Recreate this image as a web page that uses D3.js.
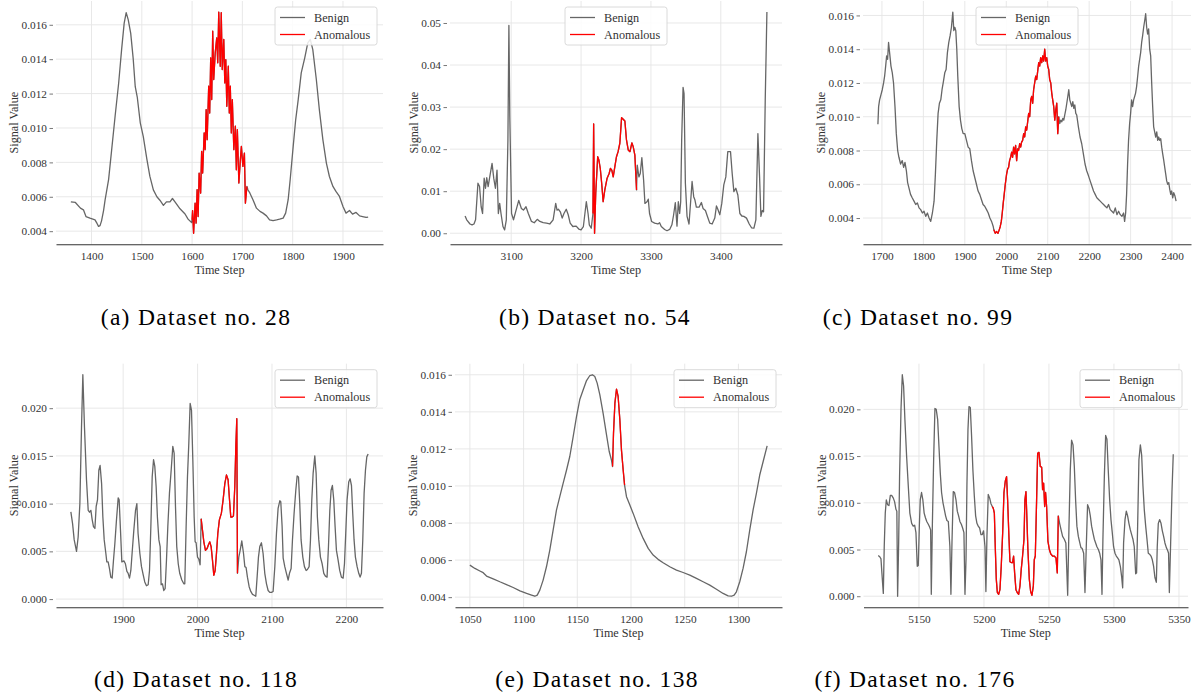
<!DOCTYPE html>
<html><head><meta charset="utf-8">
<script src="https://cdn.jsdelivr.net/npm/d3@7"></script>
<style>
html,body{margin:0;padding:0;background:#fff;}
svg{display:block;}
svg text{font-family:"Liberation Serif","Tinos","DejaVu Serif",serif;}
</style></head><body>
<svg id="chart" width="1198" height="693"></svg>
<script>
// ---------------- DATA ----------------
const series28 = [[1359,0.0057],[1368,0.00567],[1378,0.00534],[1384,0.00524],[1389,0.00485],[1397,0.00476],[1407,0.00466],[1411,0.00445],[1414,0.00428],[1417,0.00432],[1420,0.0046],[1424,0.0052],[1427,0.0058],[1434,0.007],[1440,0.0087],[1447,0.0107],[1454,0.0126],[1460,0.0146],[1465,0.0161],[1469,0.0167],[1473,0.0163],[1478,0.0155],[1483,0.014],[1487,0.0124],[1491,0.0118],[1497,0.0103],[1503,0.0095],[1510,0.0082],[1516,0.0072],[1523,0.0064],[1530,0.006],[1536,0.0058],[1543,0.0055],[1549,0.0057],[1556,0.0057],[1561,0.0059],[1566,0.0057],[1576,0.0053],[1586,0.005],[1592,0.0047],[1599,0.0045],
[1600,0.00466],[1601,0.0052],[1603,0.00388],[1606,0.00563],[1608,0.00447],[1610,0.00641],[1612,0.00485],[1614,0.00738],[1617,0.00621],[1619,0.00864],[1621,0.00738],[1624,0.00971],[1626,0.00874],[1628,0.01107],[1630,0.00932],[1633,0.01243],[1635,0.01087],[1637,0.01408],[1639,0.01165],[1641,0.01563],[1643,0.01282],[1646,0.01437],[1649,0.01524],[1651,0.01379],[1653,0.01674],[1656,0.01359],[1658,0.0167],[1660,0.0134],[1663,0.01515],[1665,0.01262],[1667,0.01398],[1669,0.01126],[1672,0.01359],[1674,0.01087],[1676,0.01243],[1678,0.00971],[1680,0.01165],[1683,0.00874],[1686,0.0101],[1688,0.00757],[1690,0.00991],[1693,0.0068],[1696,0.00816],[1698,0.00893],[1701,0.00777],[1704,0.00854],[1706,0.00563],[1709,0.0066],
[1711,0.00641],[1715,0.00621],[1721,0.00583],[1728,0.00534],[1735,0.00515],[1741,0.00505],[1748,0.00489],[1754,0.00466],[1761,0.00462],[1768,0.00466],[1774,0.0047],[1781,0.00476],[1786,0.00505],[1791,0.00583],[1795,0.00699],[1801,0.00893],[1806,0.01049],[1811,0.01165],[1817,0.0132],[1824,0.01408],[1830,0.01495],[1835,0.01515],[1840,0.01456],[1847,0.01282],[1853,0.01107],[1860,0.00932],[1867,0.00796],[1873,0.00718],[1880,0.0066],[1886,0.00631],[1893,0.00602],[1900,0.00544],[1906,0.00505],[1913,0.0052],[1919,0.00499],[1926,0.00509],[1933,0.00489],[1939,0.00485],[1946,0.0048],[1950,0.00482]];
const anom28 = [1600, 1709];

const series54 = [[3034,0.0041],[3036.3,0.0032],[3041,0.0022],[3044,0.002],[3046.7,0.0022],[3049,0.0032],[3052.4,0.0119],[3054.7,0.0111],[3057,0.0063],[3059,0.0047],[3061.3,0.0131],[3063.2,0.0107],[3065,0.0132],[3067,0.0111],[3069.3,0.0134],[3072.6,0.0166],[3075,0.0131],[3077.4,0.0107],[3079.7,0.015],[3081.6,0.0047],[3083.5,0.0071],[3085.4,0.0047],[3088.2,0.0016],[3090.6,0.0008],[3093,0.0032],[3095.3,0.0222],[3096.7,0.0494],[3098,0.0277],[3100.5,0.0047],[3103.3,0.0032],[3107,0.0055],[3110.8,0.0078],[3114.6,0.0059],[3117.5,0.0055],[3121.2,0.0063],[3124.5,0.0047],[3129,0.0028],[3133,0.0025],[3137.3,0.0033],[3141,0.0028],[3145.8,0.0025],[3150.5,0.0024],[3155.2,0.0022],[3160,0.0032],[3163.7,0.0071],[3165.6,0.0055],[3167.5,0.0057],[3170.3,0.0051],[3173,0.0036],[3175.5,0.0047],[3178.8,0.0057],[3181.6,0.0044],[3184.4,0.0024],[3188.2,0.0016],[3193,0.0017],[3196.7,0.001],[3200,0.0008],[3203.3,0.0016],[3207.5,0.0075],[3210,0.0047],[3211.8,0.002],[3214.6,0.0012],
[3217,0.0047],[3218,0.026],[3219.3,0.0],[3221,0.0095],[3223.8,0.0182],[3225.5,0.0174],[3227.5,0.0154],[3229.5,0.0119],[3231.6,0.0075],[3234,0.0103],[3237.3,0.0131],[3240.2,0.0142],[3242,0.0154],[3244,0.015],[3246,0.0134],[3248.3,0.0158],[3250.7,0.0182],[3253,0.0194],[3255.5,0.0214],[3258,0.0275],[3260.3,0.0271],[3262.7,0.0267],[3265,0.0222],[3267.5,0.0198],[3270,0.0194],[3272.7,0.0215],[3274.6,0.0206],[3277,0.0186],[3279.4,0.0103],
[3280.4,0.0162],[3282.8,0.0134],[3284.7,0.0142],[3287,0.018],[3289.5,0.0127],[3291.4,0.0071],[3294.3,0.0075],[3296.2,0.0081],[3298,0.0047],[3301,0.0028],[3305.3,0.0024],[3310,0.0022],[3312.4,0.0025],[3314.8,0.0016],[3319.6,0.0009],[3323,0.0006],[3326.8,0.0009],[3330,0.002],[3332.5,0.0044],[3334.9,0.0073],[3337.3,0.0017],[3339.2,0.0075],[3341.1,0.0047],[3342.6,0.0075],[3344,0.0222],[3346,0.0347],[3347.4,0.0332],[3349.3,0.0119],[3351.7,0.004],[3354.5,0.0022],[3357,0.0079],[3358.9,0.0123],[3361.2,0.0087],[3363,0.0079],[3365,0.0062],[3368.9,0.0062],[3372.2,0.0073],[3374.6,0.0059],[3378,0.0054],[3380.9,0.004],[3384.2,0.0024],[3387.6,0.0022],[3391.4,0.0036],[3393.8,0.0065],[3396.2,0.0055],[3398.6,0.0044],[3401.4,0.0071],[3404.3,0.0115],[3407.2,0.0134],[3410,0.0194],[3413.9,0.0194],[3416.3,0.0142],[3418.7,0.0099],[3421.5,0.0107],[3424.4,0.0091],[3427.3,0.0047],[3430.1,0.0041],[3433,0.004],[3436.8,0.0036],[3440.7,0.0022],[3444,0.0013],[3447.4,0.0012],[3450.2,0.0032],[3453.1,0.0237],[3455.5,0.0134],[3457.4,0.004],[3459.3,0.0054],[3461.2,0.0051],[3463.6,0.0316],[3466,0.0526]];
const anom54 = [3217, 3279.4];

const series99 = [[1690.3,0.00956],[1692,0.0106],[1694.4,0.011],[1697.6,0.0113],[1700.8,0.0116],[1704,0.012],[1706.5,0.0124],[1709,0.013],[1711.3,0.0136],[1713.7,0.0134],[1716,0.0144],[1718.5,0.0138],[1721.8,0.013],[1725,0.0126],[1728,0.012],[1731.5,0.0106],[1734.7,0.009],[1738,0.008],[1741,0.0076],[1745,0.0072],[1749,0.0074],[1752.4,0.007],[1755.6,0.0073],[1759,0.0068],[1762,0.0061],[1765,0.0058],[1769,0.0054],[1773,0.0052],[1777.4,0.005],[1781.5,0.0048],[1785.5,0.0049],[1789.5,0.0046],[1793.5,0.0045],[1797.6,0.0043],[1801.6,0.0044],[1805.6,0.0041],[1809.7,0.0043],[1813.7,0.004],[1817.7,0.0038],[1821.8,0.0043],[1825.8,0.005],[1829,0.0066],[1832.3,0.0086],[1835.5,0.0102],[1838.7,0.0108],[1842,0.011],[1845,0.0116],[1848.4,0.0121],[1851.6,0.0126],[1854.8,0.0128],[1858,0.0138],[1861.3,0.0144],[1864.5,0.0148],[1867.7,0.0153],[1871,0.0162],[1873.4,0.0151],[1875.8,0.0153],[1878.2,0.0151],[1880.6,0.014],[1883,0.0124],[1886.3,0.0106],[1889.5,0.0098],[1892.7,0.0093],[1896,0.009],[1900,0.009],[1904,0.0086],[1908,0.0082],[1912,0.0081],[1916,0.0074],[1920,0.0068],[1924,0.0064],[1928,0.006],[1932,0.0056],[1936,0.0054],[1940,0.0051],[1944,0.0048],[1948,0.0047],[1952.4,0.0045],[1956.5,0.0043],[1960.5,0.004],[1964.5,0.0038],[1968.5,0.0035],
[1970,0.0033],[1973.4,0.0031],[1976.6,0.0032],[1980,0.0031],[1983,0.0033],[1985.5,0.0035],[1988,0.0038],[1990.3,0.0043],[1992.7,0.0049],[1995,0.0054],[1997.6,0.006],[2000.8,0.0066],[2003.2,0.0069],[2005.6,0.007],[2008,0.0074],[2010.5,0.0076],[2013,0.0079],[2015.3,0.0076],[2017.7,0.0082],[2020,0.0078],[2022.6,0.0083],[2025,0.0074],[2027.4,0.0081],[2029.8,0.008],[2032.3,0.0084],[2034.7,0.0082],[2037,0.0085],[2039.5,0.0086],[2042,0.009],[2044.4,0.0088],[2046.8,0.0094],[2049.2,0.0092],[2051.6,0.0097],[2054,0.0102],[2056.5,0.01],[2059,0.011],[2061.3,0.0112],[2063.7,0.0108],[2066,0.0116],[2068.5,0.012],[2071,0.0124],[2073.4,0.0122],[2075.8,0.0127],[2078.2,0.0132],[2080.6,0.013],[2083,0.0135],[2085.5,0.0132],[2088,0.0136],[2090.3,0.0133],[2092.7,0.014],[2095,0.0133],[2097.6,0.0135],[2100,0.013],[2102.4,0.0128],[2104.8,0.0122],[2107.3,0.012],[2109.7,0.0114],[2112,0.011],[2114.5,0.0106],[2117,0.0098],[2119.4,0.0104],[2121.8,0.0108],[2124.2,0.009],[2126.6,0.01],
[2129,0.0096],[2131.5,0.0098],[2134,0.0097],[2136.3,0.0099],[2138.7,0.0098],[2141,0.0101],[2143.5,0.0104],[2146,0.0108],[2148.4,0.0112],[2150.8,0.0116],[2153.2,0.011],[2155.6,0.0108],[2158,0.0106],[2160.5,0.0109],[2163,0.0105],[2165.3,0.0107],[2167.7,0.0102],[2170,0.0101],[2174,0.0094],[2178,0.0088],[2182,0.0084],[2186,0.0078],[2190,0.0072],[2194,0.0068],[2198.4,0.0065],[2202.4,0.0062],[2206.5,0.0059],[2210.5,0.0056],[2214.5,0.0054],[2218.5,0.0052],[2222.6,0.0051],[2226.6,0.005],[2230.6,0.0049],[2234.7,0.0048],[2238.7,0.0047],[2242.7,0.0046],[2246.8,0.0048],[2250.8,0.0045],[2254.8,0.0044],[2258.9,0.0043],[2263,0.0046],[2267,0.0042],[2271,0.0044],[2275,0.0042],[2279,0.0041],[2283,0.0043],[2285.5,0.0038],[2288,0.0043],[2290.3,0.0054],[2292.7,0.0072],[2295,0.0086],[2297.6,0.0096],[2300,0.0102],[2302.4,0.011],[2304.8,0.0106],[2307.3,0.011],[2309.7,0.0112],[2312,0.0114],[2314.5,0.0118],[2317,0.0124],[2319.4,0.013],[2321.8,0.0134],[2324.2,0.0138],[2326.6,0.0144],[2329,0.0148],[2331.5,0.0153],[2334,0.0157],[2336.3,0.0161],[2338.7,0.0153],[2341,0.0149],[2343.5,0.0152],[2346,0.014],[2348.4,0.0136],[2350.8,0.012],[2353.2,0.0106],[2355.6,0.0094],[2358,0.0091],[2360.5,0.0088],[2363,0.0091],[2365.3,0.0086],[2367.7,0.0088],[2370,0.0086],[2372.6,0.0087],[2375,0.0082],[2377.4,0.0078],[2380,0.0074],[2382.3,0.007],[2384.7,0.0066],[2387,0.0062],[2389.5,0.006],[2392,0.0061],[2394.4,0.0057],[2396.8,0.0054],[2399,0.0056],[2401.6,0.0052],[2404,0.0055],[2407,0.0053],[2409.7,0.005]];
const anom99 = [1970, 2126.6];

const series118 = [[1829.7,0.00914],[1832,0.0079],[1834.2,0.0062],[1837.3,0.005],[1839.5,0.0065],[1841.8,0.01],[1844,0.018],[1845.8,0.0235],[1848,0.018],[1850.7,0.0125],[1853,0.0093],[1854.8,0.0091],[1856.6,0.0093],[1858.4,0.0083],[1860.1,0.0076],[1862,0.0074],[1863.7,0.0097],[1865.5,0.0104],[1867.3,0.0135],[1869,0.014],[1871,0.0121],[1872.7,0.0086],[1874.5,0.0062],[1876.7,0.0048],[1878,0.0039],[1879.8,0.0039],[1881.6,0.0032],[1883.4,0.0023],[1885.2,0.0022],[1887,0.0041],[1888.8,0.0058],[1891,0.0083],[1893.3,0.0106],[1894.6,0.0104],[1896.4,0.0072],[1898.2,0.0039],[1901,0.004],[1903,0.0037],[1905,0.0029],[1906.7,0.0027],[1908.5,0.0022],[1910.3,0.003],[1912,0.0048],[1914.3,0.0072],[1916.6,0.0093],[1918.4,0.01],[1920,0.0069],[1922.4,0.0048],[1924.6,0.0034],[1927,0.0025],[1929,0.0018],[1931.3,0.0014],[1933.6,0.0015],[1935.4,0.003],[1937.2,0.0076],[1939,0.0128],[1940.8,0.0146],[1942.5,0.0139],[1944.3,0.0118],[1946,0.0086],[1948,0.0062],[1949.7,0.0055],[1951,0.0015],[1952.8,0.0016],[1954.6,0.0009],[1956.4,0.0011],[1958.2,0.0041],[1960,0.0076],[1962.2,0.0111],[1964.5,0.0135],[1966.7,0.016],[1968.5,0.0153],[1970.3,0.0097],[1972,0.0055],[1974,0.0037],[1976,0.0027],[1978.8,0.002],[1981.5,0.0016],[1982.8,0.0016],[1984.6,0.0076],[1986.4,0.0128],[1988.2,0.0163],[1990,0.0205],[1991.8,0.0198],[1993.6,0.0146],[1995.4,0.0086],[1996.7,0.006],[1998,0.0059],[1999.9,0.0044],[2001.6,0.0042],[2003.4,0.0036],
[2004.8,0.0084],[2006.6,0.0072],[2008.4,0.006],[2010.6,0.0051],[2012.8,0.0053],[2014.6,0.0057],[2016.4,0.006],[2018.2,0.0055],[2020,0.0041],[2021.8,0.0025],[2023.6,0.003],[2025.4,0.0048],[2027.2,0.0069],[2029.3,0.0083],[2032,0.009],[2034.3,0.0104],[2036.6,0.0121],[2038.8,0.013],[2041,0.0125],[2042.9,0.0104],[2044.6,0.0086],[2046.4,0.0086],[2048.2,0.0087],[2050,0.0118],[2051.4,0.016],[2052.7,0.0189],[2053.6,0.0027],
[2055.4,0.0044],[2057.2,0.0051],[2059.4,0.0061],[2061.7,0.0048],[2063.5,0.0034],[2065.2,0.0033],[2067,0.0023],[2069.3,0.0013],[2071.5,0.0008],[2073.8,0.0005],[2076,0.0004],[2078.2,0.0003],[2080,0.0023],[2081.8,0.0044],[2083.6,0.0055],[2085.8,0.0059],[2088,0.0048],[2090.3,0.0027],[2092.6,0.0016],[2094.8,0.0009],[2097,0.0007],[2099.3,0.0007],[2101.5,0.0008],[2103.8,0.0034],[2106,0.0069],[2108.2,0.0095],[2110.5,0.0103],[2111.8,0.0102],[2113.6,0.0076],[2115,0.0043],[2117.2,0.0034],[2119.4,0.0027],[2121.7,0.002],[2123.5,0.0027],[2125.7,0.0032],[2127.5,0.0062],[2129.7,0.009],[2132,0.0114],[2133.8,0.0129],[2135.6,0.0128],[2137.3,0.01],[2139.1,0.0062],[2141.4,0.0044],[2143.6,0.0034],[2145.9,0.003],[2147.6,0.0031],[2149.9,0.0034],[2151.7,0.0062],[2153.5,0.0104],[2155.3,0.0132],[2157.5,0.015],[2159.3,0.0132],[2161,0.0086],[2162.9,0.0062],[2165.1,0.0044],[2167.4,0.0037],[2169.6,0.0027],[2171.8,0.0024],[2174,0.0023],[2175.9,0.0055],[2177.7,0.0093],[2179.4,0.0114],[2181.2,0.0119],[2183,0.0104],[2184.8,0.0076],[2186.6,0.0051],[2188.8,0.0041],[2191,0.003],[2193.3,0.0023],[2195.6,0.0022],[2197.4,0.0037],[2199.1,0.0069],[2200.9,0.0104],[2203.2,0.0123],[2205,0.0126],[2206.8,0.0119],[2208.5,0.009],[2210.3,0.0062],[2212.1,0.0044],[2214.4,0.0034],[2216.6,0.0027],[2218.4,0.0023],[2220.2,0.0027],[2222,0.0062],[2223.8,0.0111],[2225.6,0.0135],[2227.4,0.0149],[2229.2,0.0152]];
const anom118 = [2004.8, 2053.6];

const series138 = [[1050,0.00573],[1054.7,0.00555],[1059.3,0.00541],[1062.4,0.00532],[1065.5,0.00514],[1071.7,0.00499],[1077.9,0.00483],[1084.1,0.00468],[1090.3,0.00452],[1096.6,0.00434],[1102.8,0.0042],[1107.4,0.00411],[1110.5,0.00405],[1112.7,0.00411],[1115.1,0.00438],[1118.2,0.00492],[1121.3,0.00564],[1124.4,0.00654],[1127.5,0.00762],[1130.6,0.0087],[1133.7,0.00942],[1136.8,0.01014],[1140,0.01086],[1143,0.01159],[1146.2,0.01267],[1149.3,0.01375],[1152.4,0.01468],[1155.5,0.01519],[1158.6,0.01569],[1161.7,0.01596],[1164.1,0.016],[1166.3,0.01591],[1168.5,0.01555],[1171,0.01492],[1174,0.01393],[1177.2,0.01276],[1179.7,0.01186],[1181.8,0.0114],
[1182.8,0.01105],[1183.7,0.01285],[1185,0.01447],[1186.5,0.01523],[1188,0.01483],[1189.6,0.01357],[1191.1,0.01195],[1192.7,0.01086],[1194,0.01005],
[1195.8,0.00942],[1198.9,0.00897],[1202,0.00852],[1206.6,0.0078],[1211.3,0.00717],[1216,0.00663],[1220.6,0.00627],[1225.2,0.00604],[1229.9,0.00586],[1236.1,0.00564],[1242.3,0.00546],[1248.5,0.00533],[1254.7,0.00519],[1260.9,0.00501],[1267.1,0.00483],[1273.3,0.00465],[1279.5,0.00443],[1285.7,0.0042],[1290.4,0.00407],[1293.5,0.00405],[1296,0.00411],[1298.1,0.00429],[1301.2,0.00483],[1304.3,0.00555],[1307.4,0.00645],[1310.5,0.00762],[1313.6,0.0087],[1316.7,0.0096],[1319.8,0.01059],[1323,0.01132],[1326.7,0.01216]];
const anom138 = [1182.8, 1194];

const series176 = [[5118.7,0.00435],[5120,0.0042],[5120.8,0.004],[5121.5,0.0025],[5122.6,0.0003],[5123.3,0.0053],[5124.1,0.0089],[5124.9,0.0103],[5125.9,0.0098],[5126.9,0.0097],[5128,0.0108],[5129,0.0108],[5130.3,0.0105],[5131.3,0.0101],[5132.3,0.0093],[5133,0.0091],[5133.6,0.0],[5134.4,0.0057],[5135.1,0.0128],[5136.2,0.02],[5137.2,0.0237],[5138.2,0.0225],[5139.2,0.0189],[5140.5,0.015],[5141.8,0.0118],[5143,0.0089],[5144.4,0.0078],[5145.6,0.0075],[5146.7,0.0076],[5147.7,0.0068],[5148.7,0.0032],[5149.5,0.0033],[5150.3,0.0075],[5151,0.0103],[5152,0.0111],[5153,0.0103],[5154,0.0089],[5155,0.0084],[5156,0.008],[5157.2,0.0077],[5158.2,0.0074],[5159,0.0071],[5159.5,0.0002],[5160.3,0.0075],[5161.3,0.0146],[5162.3,0.0201],[5163.3,0.02],[5164.4,0.0189],[5165.4,0.016],[5166.4,0.0132],[5167.4,0.0111],[5168.5,0.01],[5169.5,0.0093],[5170.5,0.0086],[5171.5,0.0081],[5172.6,0.008],[5173.8,0.0053],[5174.6,0.0002],[5175.4,0.0057],[5176.4,0.0112],[5177.4,0.0111],[5178.5,0.0103],[5179.5,0.0091],[5180.5,0.0086],[5181.5,0.008],[5182.6,0.0077],[5183.6,0.0073],[5184.6,0.0068],[5185.4,0.0002],[5186.2,0.0039],[5186.9,0.0118],[5187.7,0.0178],[5188.5,0.0203],[5189.5,0.0202],[5190.5,0.0171],[5191.5,0.0135],[5192.6,0.0107],[5193.6,0.0086],[5194.6,0.0078],[5195.6,0.0075],[5196.7,0.0073],[5197.7,0.0066],[5198.7,0.0066],[5199.7,0.007],[5200.8,0.0053],[5201.5,0.0005],[5202.3,0.0064],[5203.3,0.0109],[5204.4,0.0105],[5205.4,0.0099],
[5206.4,0.0096],[5207.2,0.0094],[5208,0.0089],[5208.7,0.0053],[5209.5,0.0018],[5210.3,0.0004],[5211.3,0.0002],[5212.3,0.0007],[5213.3,0.0032],[5214.4,0.0068],[5215.4,0.0111],[5216.4,0.0123],[5217.4,0.0128],[5218.2,0.0103],[5219.2,0.0064],[5220,0.0037],[5221,0.0036],[5222,0.0036],[5222.8,0.0043],[5223.6,0.0025],[5224.6,0.0007],[5225.6,0.0004],[5226.7,0.0002],[5227.7,0.0011],[5228.7,0.0029],[5229.7,0.0043],[5230.8,0.0061],[5231.5,0.0103],[5232.3,0.0112],[5232.8,0.0093],[5233.8,0.005],[5234.9,0.0018],[5235.9,0.0005],[5236.9,0.0001],[5238,0.0011],[5238.7,0.0039],[5239.5,0.0043],[5240.5,0.0103],[5241.3,0.0153],[5242.3,0.0154],[5243.3,0.0139],[5244.4,0.0138],[5245.1,0.0114],[5245.9,0.0121],[5246.7,0.0096],[5247.4,0.0111],[5248.2,0.0096],[5249.2,0.0059],[5250.3,0.005],[5251.5,0.0045],[5252.8,0.0043],[5254,0.0043],[5255.4,0.0041],[5256.4,0.0025],[5257.2,0.0086],
[5258.2,0.0078],[5259.5,0.007],[5260.5,0.0064],[5261.8,0.0061],[5263,0.0057],[5264.4,0.0001],[5265.4,0.0075],[5266.4,0.0135],[5267.4,0.0167],[5268.5,0.0162],[5269.5,0.0139],[5270.5,0.0103],[5271.5,0.0075],[5272.6,0.0064],[5273.6,0.0058],[5274.6,0.0052],[5275.6,0.0051],[5276.7,0.0046],[5277.7,0.0004],[5278.7,0.0053],[5279.7,0.0098],[5280.8,0.0094],[5281.8,0.0086],[5282.8,0.0075],[5283.8,0.0068],[5284.9,0.0061],[5285.9,0.0057],[5286.9,0.0053],[5288,0.005],[5289,0.0046],[5290,0.0039],[5290.8,0.0002],[5291.5,0.0061],[5292.6,0.0128],[5293.6,0.0172],[5294.6,0.0168],[5295.6,0.0135],[5296.7,0.0103],[5297.7,0.0082],[5298.7,0.0068],[5299.7,0.0053],[5300.8,0.0046],[5301.8,0.0043],[5302.8,0.0041],[5303.8,0.0039],[5304.9,0.0032],[5305.9,0.0021],[5306.7,0.0009],[5307.4,0.0057],[5308.5,0.0082],[5309.5,0.0091],[5310.5,0.0086],[5311.5,0.0078],[5312.6,0.0071],[5313.6,0.0066],[5314.6,0.0061],[5315.6,0.0053],[5316.7,0.0024],[5317.4,0.0025],[5318.2,0.0075],[5319.2,0.0146],[5320.3,0.0162],[5321.3,0.0151],[5322.3,0.0118],[5323.3,0.0093],[5324.4,0.0075],[5325.4,0.0061],[5326.4,0.0046],[5327.4,0.0045],[5328.5,0.0043],[5329.5,0.0039],[5330.5,0.0032],[5331.5,0.002],[5332.6,0.0015],[5333.3,0.0053],[5334.1,0.0078],[5335.1,0.0082],[5336.2,0.0078],[5337.2,0.007],[5338.2,0.0064],[5339.2,0.0057],[5340.3,0.0052],[5341.3,0.0049],[5342,0.0046],[5342.6,0.0004],[5343.6,0.0057],[5344.6,0.0111],[5345.6,0.0152]];
const anom176 = [5206.4, 5257.2];

const xTicks28 = [1400,1500,1600,1700,1800,1900];
const yTicks28 = [0.004,0.006,0.008,0.010,0.012,0.014,0.016];
const xTicks54 = [3100,3200,3300,3400];
const yTicks54 = [0.00,0.01,0.02,0.03,0.04,0.05];
const xTicks99 = [1700,1800,1900,2000,2100,2200,2300,2400];
const yTicks99 = [0.004,0.006,0.008,0.010,0.012,0.014,0.016];
const xTicks118 = [1900,2000,2100,2200];
const yTicks118 = [0.000,0.005,0.010,0.015,0.020];
const xTicks138 = [1050,1100,1150,1200,1250,1300];
const yTicks138 = [0.004,0.006,0.008,0.010,0.012,0.014,0.016];
const xTicks176 = [5150,5200,5250,5300,5350];
const yTicks176 = [0.000,0.005,0.010,0.015,0.020];

const captions = ["(a) Dataset no. 28","(b) Dataset no. 54","(c) Dataset no. 99","(d) Dataset no. 118","(e) Dataset no. 138","(f) Dataset no. 176"];
const legendLabels = ["Benign","Anomalous"];
const xLabel = "Time Step";
const yLabel = "Signal Value";

// ---------------- LAYOUT ----------------
const panels = [
  {s:series28, a:anom28, xt:xTicks28, yt:yTicks28, yf:".3f", box:{l:56,t:1,r:383,b:244.3}, leg:"right", ylab:42, cap:[196,325]},
  {s:series54, a:anom54, xt:xTicks54, yt:yTicks54, yf:".2f", box:{l:450,t:1,r:782,b:244.3}, leg:"center", ylab:36, cap:[595,325]},
  {s:series99, a:anom99, xt:xTicks99, yt:yTicks99, yf:".3f", box:{l:863,t:1,r:1191,b:244.3}, leg:"center", ylab:42, cap:[918,325]},
  {s:series118, a:anom118, xt:xTicks118, yt:yTicks118, yf:".3f", box:{l:56,t:363.7,r:383,b:607.3}, leg:"right", ylab:42, cap:[196,687]},
  {s:series138, a:anom138, xt:xTicks138, yt:yTicks138, yf:".3f", box:{l:455,t:363.7,r:782,b:607.3}, leg:"right", ylab:42, cap:[597,687]},
  {s:series176, a:anom176, xt:xTicks176, yt:yTicks176, yf:".3f", box:{l:863.5,t:363.7,r:1188,b:607.3}, leg:"right", ylab:42, cap:[915,687]}
];

const FONT = '"Liberation Serif","Tinos","DejaVu Serif",serif';
const GRAY = "#666666", RED = "#ff0000", GRID = "#e5e5e5", TXT = "#333333";
const svg = d3.select("#chart");
const pad = ext => { const m = (ext[1]-ext[0])*0.05; return [ext[0]-m, ext[1]+m]; };

panels.forEach((p, i) => {
  const B = p.box;
  const x = d3.scaleLinear().domain(pad(d3.extent(p.s, d => d[0]))).range([B.l, B.r]);
  const y = d3.scaleLinear().domain(pad(d3.extent(p.s, d => d[1]))).range([B.b, B.t]);
  const g = svg.append("g");

  // grid
  g.append("g").selectAll("line").data(p.xt).join("line")
    .attr("x1", d => x(d)).attr("x2", d => x(d)).attr("y1", B.t).attr("y2", B.b)
    .attr("stroke", GRID).attr("stroke-width", 0.9);
  g.append("g").selectAll("line").data(p.yt).join("line")
    .attr("x1", B.l).attr("x2", B.r).attr("y1", d => y(d)).attr("y2", d => y(d))
    .attr("stroke", GRID).attr("stroke-width", 0.9);

  // x axis
  const gx = g.append("g").attr("transform", `translate(0,${B.b})`)
    .call(d3.axisBottom(x).tickValues(p.xt).tickSize(0).tickSizeOuter(0).tickPadding(8).tickFormat(d3.format("d")));
  gx.select(".domain").attr("stroke", "#333").attr("stroke-width", 1.1);
  gx.attr("font-family", FONT).attr("font-size", 11.3);
  gx.selectAll("text").style("font-family", FONT).attr("fill", TXT);

  // y axis
  const gy = g.append("g").attr("transform", `translate(${B.l - 3},0)`)
    .call(d3.axisLeft(y).tickValues(p.yt).tickSize(3.5).tickSizeOuter(0).tickPadding(2.5).tickFormat(d3.format(p.yf)));
  gy.select(".domain").remove();
  gy.attr("font-family", FONT).attr("font-size", 11.3);
  gy.selectAll(".tick line").attr("stroke", "#555").attr("stroke-width", 0.8);
  gy.selectAll("text").style("font-family", FONT).attr("fill", TXT);

  // labels
  g.append("text").attr("x", (B.l + B.r) / 2).attr("y", B.b + 29.5).attr("text-anchor", "middle")
    .style("font-family", FONT).attr("font-size", 12.2).attr("fill", TXT).text(xLabel);
  g.append("text").attr("transform", `translate(${B.l - p.ylab + 4},${(B.t + B.b) / 2}) rotate(-90)`)
    .attr("text-anchor", "middle").style("font-family", FONT).attr("font-size", 12.2).attr("fill", TXT).text(yLabel);

  // lines
  const line = d3.line().x(d => x(d[0])).y(d => y(d[1]));
  g.append("path").datum(p.s).attr("d", line).attr("fill", "none")
    .attr("stroke", GRAY).attr("stroke-width", 1.3).attr("stroke-linejoin", "round");
  const an = p.s.filter(d => d[0] >= p.a[0] && d[0] <= p.a[1]);
  g.append("path").datum(an).attr("d", line).attr("fill", "none")
    .attr("stroke", RED).attr("stroke-width", 1.3).attr("stroke-linejoin", "round");

  // legend
  const LW = 102, LH = 38;
  const lx = p.leg === "right" ? B.r - 6 - LW : (B.l + B.r) / 2 - LW / 2;
  const ly = B.t + 6;
  const lg = g.append("g").attr("transform", `translate(${lx},${ly})`);
  lg.append("rect").attr("width", LW).attr("height", LH).attr("rx", 2.5)
    .attr("fill", "#fff").attr("fill-opacity", 0.85).attr("stroke", "#d6d6d6").attr("stroke-width", 0.9);
  [GRAY, RED].forEach((c, k) => {
    const yy = 10.5 + k * 17;
    lg.append("line").attr("x1", 5).attr("x2", 30).attr("y1", yy).attr("y2", yy)
      .attr("stroke", c).attr("stroke-width", 1.3);
    lg.append("text").attr("x", 39).attr("y", yy + 4.2).style("font-family", FONT)
      .attr("font-size", 12.2).attr("fill", TXT).text(legendLabels[k]);
  });

  // caption
  svg.append("text").attr("x", p.cap[0]).attr("y", p.cap[1]).attr("text-anchor", "middle")
    .style("font-family", FONT).attr("font-size", 23.5).attr("letter-spacing", 1.3).attr("fill", "#000").text(captions[i]);
});
</script>
</body></html>
